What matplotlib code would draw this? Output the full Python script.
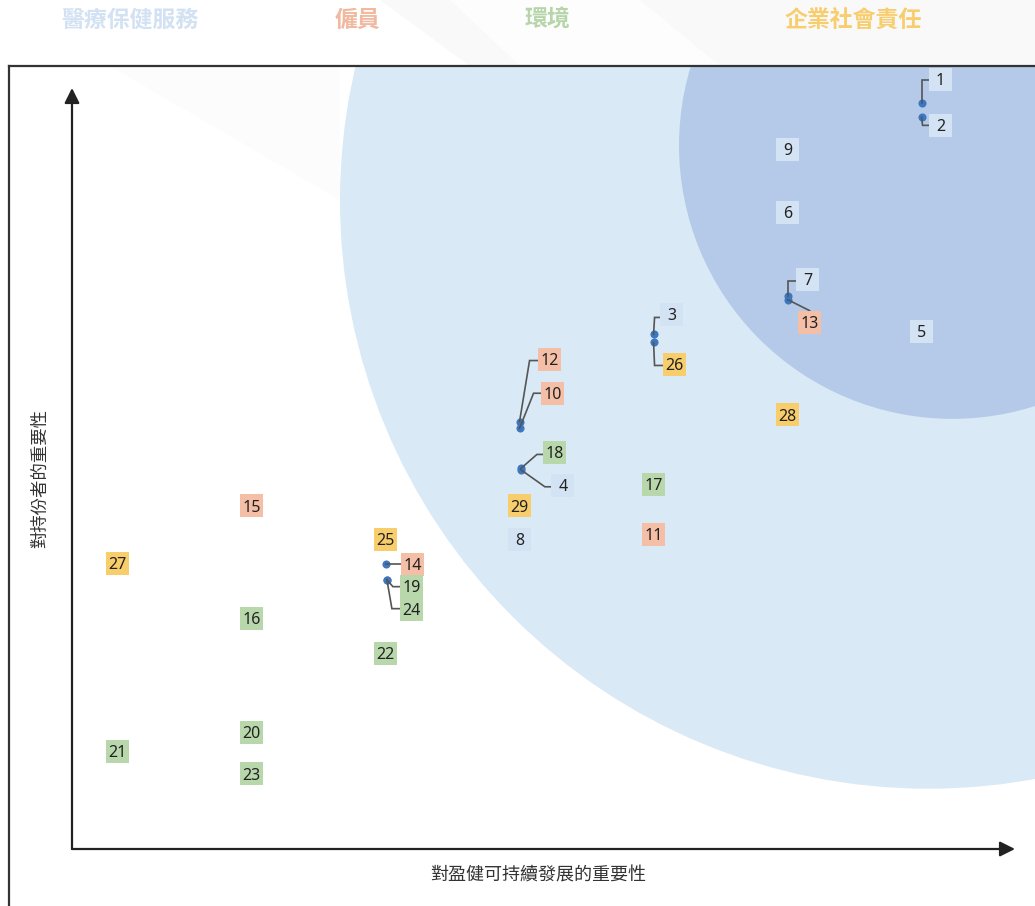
import matplotlib
matplotlib.use('Agg')
import matplotlib.pyplot as plt
from matplotlib.patches import Circle, Polygon, Rectangle

plt.rcParams['font.family'] = ['Noto Sans CJK TC', 'DejaVu Sans']

# ---------------- data ----------------
ids = [1, 2, 3, 4, 5, 6, 7, 8, 9,
       10, 11, 12, 13, 14, 15,
       16, 17, 18, 19, 20, 21, 22, 23, 24,
       25, 26, 27, 28, 29]
xs = [7.0, 7.0, 5.0, 4.01, 7.0, 6.0, 6.0, 4.0, 6.0,
      4.0, 5.0, 4.0, 6.0, 3.0, 2.0,
      2.0, 5.0, 4.01, 3.01, 2.0, 1.0, 3.0, 2.0, 3.01,
      3.0, 5.0, 1.0, 6.0, 4.0]
ys = [6.23, 6.12, 4.50, 3.49, 4.52, 5.41, 4.79, 2.97, 5.88,
      3.80, 3.01, 3.85, 4.76, 2.79, 3.22,
      2.38, 3.38, 3.50, 2.67, 1.53, 1.39, 2.12, 1.22, 2.67,
      2.97, 4.44, 2.79, 3.90, 3.22]
cats = [0, 0, 0, 0, 0, 0, 0, 0, 0,
        1, 1, 1, 1, 1, 1,
        2, 2, 2, 2, 2, 2, 2, 2, 2,
        3, 3, 3, 3, 3]
categories = ['醫療保健服務', '僱員', '環境', '企業社會責任']
x_title = '對盈健可持續發展的重要性'
y_title = '對持份者的重要性'

# ---------------- styles / layout ----------------
box_colors = ['#d3e3f4', '#f4bfa6', '#b8d8ac', '#f8cd6b']
legend_colors = ['#d2e2f3', '#f1b9a0', '#b6d6aa', '#f8cd6e']
legend_x_px = [130, 357, 547, 853]

# displaced labels: label centre offset and leader path (pixels, x right / y down)
label_moves = {
    1: ((19, -23), [(0, 0), (0, -23), (8, -23)]),
    2: ((19, 8), [(0, 0), (1, 8), (8, 8)]),
    7: ((20, -16), [(0, 0), (0, -15), (9, -15)]),
    13: ((22, 23), [(0, 0), (22, 11)]),
    3: ((18, -20), [(0, 0), (1, -17), (8, -17)]),
    26: ((21, 22), [(0, 0), (1, 23), (10, 23)]),
    12: ((30, -62), [(0, 0), (10, -61), (20, -61)]),
    10: ((33, -35), [(0, 0), (14, -35), (23, -35)]),
    18: ((34, -16), [(0, 0), (16, -14), (24, -14)]),
    4: ((42, 16), [(0, 0), (24, 17), (31, 17)]),
    14: ((27, 1), [(0, 0), (16, 0)]),
    19: ((25, 7), [(0, 0), (6, 7), (14, 7)]),
    24: ((25, 30), [(0, 0), (5, 29), (14, 29)]),
}

W, H = 1035, 906
PX = 134.0            # pixels per data unit
ORX, ORY = 72, 849    # pixel position of value 0.66 on each axis
V0 = 0.66
BOX = 23.0            # label box size in px
FS = 11.5             # label font size (pt)

fig = plt.figure(figsize=(W / 100, H / 100), dpi=100)
fig.patch.set_facecolor('white')

# faint background shapes
bg = fig.add_axes([0, 0, 1, 1], zorder=-10)
bg.set_xlim(0, W); bg.set_ylim(H, 0); bg.axis('off')
bg.add_patch(Polygon([(380, 0), (1035, 0), (1035, 66), (470, 66)],
                     closed=True, fc='#f9f9fa', ec='none'))
bg.add_patch(Polygon([(450, 0), (640, 0), (720, 66), (520, 66)],
                     closed=True, fc='#fdfdfd', ec='none'))
bg.add_patch(Polygon([(110, 66), (340, 66), (340, 200)],
                     closed=True, fc='#fcfcfc', ec='none'))

ax = fig.add_axes([9 / W, 0, (W - 9) / W, (H - 66) / H])
ax.set_facecolor('none')
ax.set_xlim(V0 + (9 - ORX) / PX, V0 + (W - ORX) / PX)
ax.set_ylim(V0 - (H - ORY) / PX, V0 + (ORY - 66) / PX)
ax.set_xticks([]); ax.set_yticks([])
for s in ['right', 'bottom']:
    ax.spines[s].set_visible(False)
for s in ['left', 'top']:
    ax.spines[s].set_color('#333333')
    ax.spines[s].set_linewidth(1.6)

# circles (importance zones)
ax.add_patch(Circle((7.05, 5.50), 4.39, fc='#d9e9f6', ec='none', zorder=0))
ax.add_patch(Circle((7.23, 5.91), 2.04, fc='#b4cae8', ec='none', zorder=1))

# axes arrows
arrow = dict(arrowstyle='-|>,head_length=0.6,head_width=0.3', lw=1.6, color='#222222',
             shrinkA=0, shrinkB=0, mutation_scale=15)
ax.annotate('', xy=(V0, V0 + (ORY - 88) / PX), xytext=(V0, V0), arrowprops=arrow, zorder=3)
ax.annotate('', xy=(V0 + (1015 - ORX) / PX, V0), xytext=(V0, V0), arrowprops=arrow, zorder=3)

# markers
ax.scatter(xs, ys, s=34, color='#3b78c1', zorder=4, linewidths=0)

# labels
half = BOX / 2 / PX
base_off = 0.357 * FS * 100 / 72 / PX
for i, x, y, c in zip(ids, xs, ys, cats):
    if i in label_moves:
        (dx, dy), path = label_moves[i]
        px = [x + p[0] / PX for p in path]
        py = [y - p[1] / PX for p in path]
        ax.plot(px, py, color='#555555', lw=1.2, zorder=4.5, solid_joinstyle='miter')
        lx, ly = x + dx / PX, y - dy / PX
    else:
        lx, ly = x, y
    ax.add_patch(Rectangle((lx - half, ly - half), 2 * half, 2 * half,
                           fc=box_colors[c], ec='none', zorder=5))
    ax.text(lx, ly - base_off, str(i), ha='center', va='baseline', fontsize=FS,
            family=['Noto Sans', 'DejaVu Sans'], color='#222222', zorder=6)

# legend
for name, col, lxp in zip(categories, legend_colors, legend_x_px):
    fig.text(lxp / W, 1 - 20 / H, name, ha='center', va='center', fontsize=16.5,
             fontweight='bold', color=col)

# axis titles
fig.text(538 / W, 1 - 876 / H, x_title, ha='center', va='center', fontsize=13, color='#333333')
fig.text(40 / W, 1 - 479 / H, y_title, ha='center', va='center', fontsize=12.5,
         color='#333333', rotation=90)

fig.savefig('out.png', dpi=100, facecolor=fig.get_facecolor())
